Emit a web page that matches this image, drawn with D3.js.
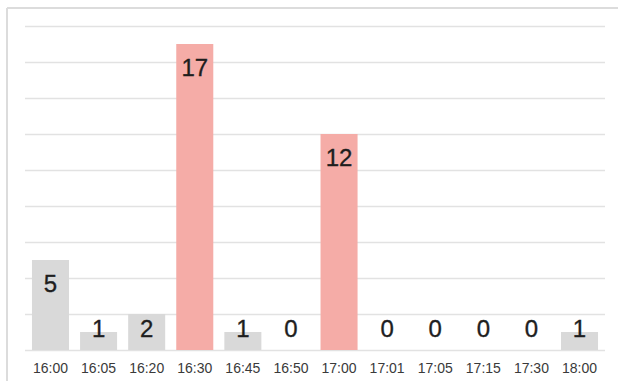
<!DOCTYPE html>
<html>
<head>
<meta charset="utf-8">
<script src="https://cdn.jsdelivr.net/npm/d3@7"></script>
<style>
  html, body { margin: 0; padding: 0; background: #fff; }
  svg { display: block; font-family: "Liberation Sans", Arial, sans-serif; }
</style>
</head>
<body>
<svg id="chart" width="618" height="381"></svg>
<script>
// data
const categories = ['16:00', '16:05', '16:20', '16:30', '16:45', '16:50', '17:00', '17:01', '17:05', '17:15', '17:30', '18:00'];
const counts = [5, 1, 2, 17, 1, 0, 12, 0, 0, 0, 0, 1];
const highlighted = ['16:30', '17:00'];
const yTicks = [0, 2, 4, 6, 8, 10, 12, 14, 16, 18];

const svg = d3.select('#chart');

const plotLeft = 25, plotRight = 605, plotTop = 26, plotBottom = 350;

// frame (only top and left edges are visible in the crop)
svg.append('line')
  .attr('x1', 7).attr('x2', 618).attr('y1', 8).attr('y2', 8)
  .attr('stroke', '#dcdcdc').attr('stroke-width', 2);
svg.append('line')
  .attr('x1', 7).attr('x2', 7).attr('y1', 8).attr('y2', 381)
  .attr('stroke', '#dcdcdc').attr('stroke-width', 2);

const x = d3.scaleBand()
  .domain(categories)
  .range([plotLeft, plotRight])
  .paddingInner(0.23)
  .paddingOuter(0.145);

const y = d3.scaleLinear()
  .domain([0, 18])
  .range([plotBottom, plotTop]);

// grid
svg.append('g')
  .attr('transform', 'translate(' + plotLeft + ',0)')
  .call(d3.axisLeft(y).tickValues(yTicks).tickSize(-(plotRight - plotLeft)).tickFormat(() => ''))
  .call(g => g.select('.domain').remove())
  .call(g => g.selectAll('.tick line').attr('stroke', '#e2e2e2').attr('stroke-width', 1.5));

// bars
svg.selectAll('rect.bar')
  .data(categories)
  .enter().append('rect')
  .attr('class', 'bar')
  .attr('x', d => x(d))
  .attr('width', x.bandwidth())
  .attr('y', (d, i) => y(counts[i]))
  .attr('height', (d, i) => plotBottom - y(counts[i]))
  .attr('fill', d => highlighted.includes(d) ? '#f5aca7' : '#d9d9d9');

// value labels
svg.selectAll('text.val')
  .data(categories)
  .enter().append('text')
  .attr('class', 'val')
  .attr('x', d => x(d) + x.bandwidth() / 2)
  .attr('y', (d, i) => Math.min(y(counts[i]) + 32, 337))
  .attr('text-anchor', 'middle')
  .attr('font-size', 24)
  .attr('fill', '#1e1e1e')
  .attr('stroke', '#1e1e1e')
  .attr('stroke-width', 0.35)
  .text((d, i) => counts[i]);

// x axis
svg.append('g')
  .attr('transform', 'translate(0,' + plotBottom + ')')
  .call(d3.axisBottom(x).tickSize(0).tickPadding(13))
  .call(g => g.select('.domain').remove())
  .call(g => g.selectAll('text')
    .attr('font-size', 14)
    .attr('font-family', '"Liberation Sans", Arial, sans-serif')
    .attr('fill', '#3a3a3a'));
</script>
</body>
</html>
